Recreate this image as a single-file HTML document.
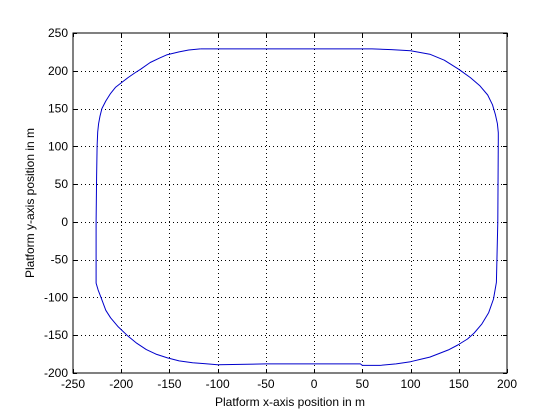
<!DOCTYPE html>
<html><head><meta charset="utf-8"><style>
html,body{margin:0;padding:0;background:#fff;}
svg{display:block;font-family:"Liberation Sans",Arial,sans-serif;}
</style></head><body>
<svg id="chart" width="560" height="420" viewBox="0 0 560 420">
<rect x="0" y="0" width="560" height="420" fill="#fff"/>
<g id="grid"></g>
<g id="ticks"></g>
<polyline id="path" fill="none" stroke="#0000cc" stroke-width="1" stroke-linejoin="round"/>
<rect x="73" y="33" width="434" height="340" fill="none" stroke="#000" stroke-width="1"/>
<text x="290" y="406" font-size="12" text-anchor="middle">Platform x-axis position in m</text>
<text x="0" y="0" font-size="12" text-anchor="middle" transform="translate(34,203) rotate(-90)">Platform y-axis position in m</text>
</svg>
<script>
const xTicks=[-250,-200,-150,-100,-50,0,50,100,150,200];
const yTicks=[-200,-150,-100,-50,0,50,100,150,200,250];
const pathX=[-118,-60,0,60,80,100,120,135,150,162,172,180,185,188,190,191,191,190.5,189,186,181,174,166,159,149,140,130,120,110,100,85,68,50,48,0,-50,-100,-114,-126,-140,-152,-164,-174,-184,-194,-203,-211,-216,-221,-224,-226,-226,-225.5,-225,-224.4,-223.5,-222,-220,-216,-211,-206,-200,-193,-186,-180,-170,-160,-153,-140,-130,-118];
const pathY=[229,229,229,229,228,226.6,222,214,202,191,180,168,155,142,130,118,110,0,-80,-102,-120,-135,-147,-155,-163,-169,-174,-179,-182,-185,-188,-190,-190,-188,-188,-188,-189,-187.5,-186.5,-184,-180,-175,-169,-160.5,-150,-139,-127,-117,-100,-90,-81,0,60,100,119,130,140,150,160,170,178,184,191,197,202,211,217,221,225,227.5,229];
const X0=73,X1=507,Y0=373,Y1=33;
function sx(v){return X0+(v-(-250))/450*(X1-X0);}
function sy(v){return Y0-(v-(-200))/450*(Y0-Y1);}
const NS="http://www.w3.org/2000/svg";
const grid=document.getElementById('grid'),ticks=document.getElementById('ticks');
function mk(tag,attrs,parent){const e=document.createElementNS(NS,tag);for(const k in attrs)e.setAttribute(k,attrs[k]);parent.appendChild(e);return e;}
xTicks.forEach(v=>{
 const x=Math.round(sx(v))+0.5;
 if(v>-250&&v<200){const g=mk('line',{x1:x,y1:Y1,x2:x,y2:Y0,stroke:'#000','stroke-dasharray':'1,3'},grid);
 
 }
 mk('line',{x1:x,y1:Y0,x2:x,y2:Y0-4,stroke:'#000'},ticks);
 mk('line',{x1:x,y1:Y1,x2:x,y2:Y1+4,stroke:'#000'},ticks);
 const t=mk('text',{x:sx(v),y:Y0+15,'font-size':12,'text-anchor':'middle'},ticks);
 t.textContent=v;
 
 
});
yTicks.forEach(v=>{
 const y=Math.round(sy(v))+0.5;
 if(v>-200&&v<250){const g=mk('line',{x1:X0,y1:y,x2:X1,y2:y,stroke:'#000','stroke-dasharray':'1,3'},grid);
 
 }
 mk('line',{x1:X0,y1:y,x2:X0+4,y2:y,stroke:'#000'},ticks);
 mk('line',{x1:X1,y1:y,x2:X1-4,y2:y,stroke:'#000'},ticks);
 const t=mk('text',{x:X0-5,y:sy(v)+4,'font-size':12,'text-anchor':'end'},ticks);
 t.textContent=v;
 
 
});
document.getElementById('path').setAttribute('points',pathX.map((x,i)=>sx(x).toFixed(1)+','+sy(pathY[i]).toFixed(1)).join(' '));
</script>
</body></html>
